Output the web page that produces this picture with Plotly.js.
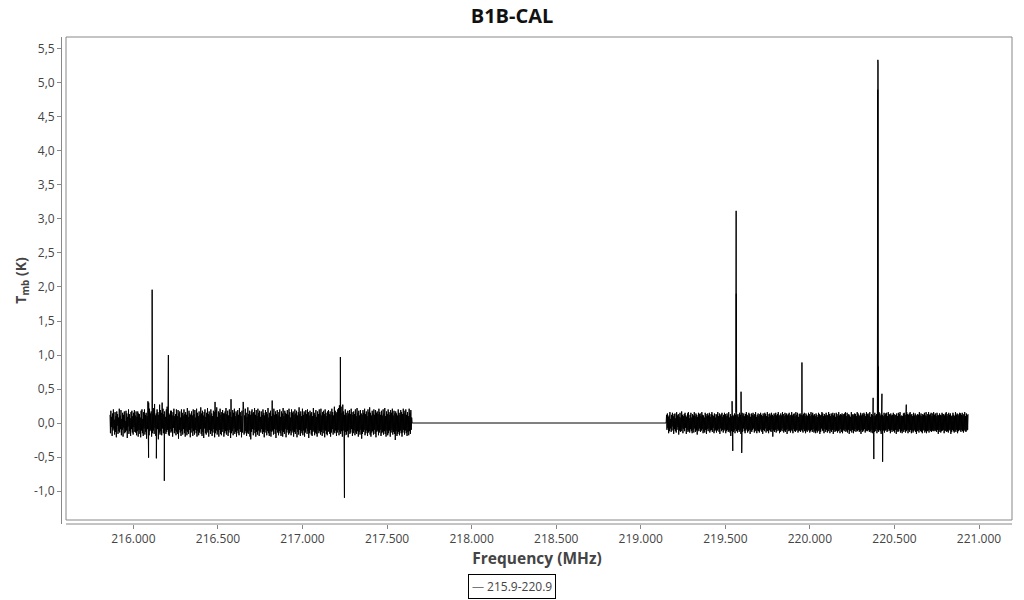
<!DOCTYPE html>
<html>
<head>
<meta charset="utf-8">
<script src="https://cdn.plot.ly/plotly-3.0.1.min.js"></script>
<style>html,body{margin:0;padding:0;background:#fff;}#chart{width:1024px;height:600px;}</style>
</head>
<body>
<div id="chart"></div>
<script>
// Spectrum channel grid (MHz) for the two observed bands
var seg1Start = 215862, seg1Step = 2.484;
var seg2Start = 219150, seg2Step = 2.483;

// Baseline noise (K), band 1
var seg1Noise = [
.12,-.15,.18,-.06,.09,-.19,.14,-.11,.2,-.08,.05,-.17,.16,-.13,.1,-.21,.17,-.04,.13,-.16,
.08,-.12,.21,-.14,.11,-.09,.19,-.18,.06,-.1,.15,-.2,.12,-.07,.17,-.15,.03,-.13,.18,-.11,
.14,-.22,.09,-.05,.2,-.16,.13,-.12,.07,-.19,.16,-.09,.18,-.14,.1,-.17,.15,-.06,.19,-.13,
.11,-.14,.17,-.18,.09,-.12,.17,-.2,.14,-.1,.13,-.16,.08,-.21,.18,-.11,.2,-.15,.06,-.19,
.16,-.08,.2,-.17,.12,-.13,.15,-.23,.1,-.09,.19,-.14,.3,-.18,.21,-.12,.14,-.1,.17,-.2,
.09,-.15,.13,-.11,.22,-.16,.28,-.07,.11,-.19,.14,-.13,.2,-.09,.16,-.24,.12,-.14,.27,-.17,
.19,-.12,.15,-.18,.3,-.08,.21,-.15,.13,-.2,.17,-.11,.09,-.16,.2,-.13,.24,-.1,.12,-.17,
.14,-.19,.12,-.09,.18,-.14,.18,-.12,.11,-.2,.16,-.07,.21,-.15,.1,-.11,.13,-.18,.2,-.13,
.1,-.16,.19,-.23,.14,-.1,.17,-.14,.08,-.19,.2,-.12,.15,-.17,.11,-.09,.2,-.15,.13,-.2,
.16,-.11,.12,-.18,.22,-.13,.09,-.16,.18,-.1,.14,-.21,.12,-.14,.17,-.08,.11,-.19,.2,-.12,
.13,-.17,.19,-.1,.08,-.15,.21,-.2,.15,-.12,.1,-.18,.17,-.14,.12,-.09,.23,-.16,.14,-.19,
.18,-.13,.11,-.22,.16,-.08,.2,-.15,.09,-.17,.15,-.11,.22,-.14,.13,-.2,.17,-.1,.11,-.16,
.2,-.12,.14,-.19,.1,-.14,.18,-.09,.16,-.21,.31,-.15,.19,-.11,.23,-.17,.09,-.13,.17,-.2,
.15,-.1,.21,-.16,.12,-.18,.16,-.13,.19,-.09,.14,-.2,.14,-.15,.17,-.12,.22,-.17,.13,-.11,
.18,-.19,.11,-.14,.2,-.1,.16,-.22,.35,-.15,.09,-.12,.19,-.18,.15,-.08,.21,-.16,.1,-.13,
.17,-.2,.14,-.11,.19,-.15,.12,-.18,.22,-.09,.16,-.13,.1,-.21,.18,-.14,.13,.31,.2,-.17,
.11,-.15,.21,-.12,.15,-.19,.09,-.14,.23,-.16,.13,-.11,.18,-.2,.12,-.24,.17,-.13,.2,-.09,
.14,-.18,.16,-.1,.22,-.15,.12,-.2,.19,-.13,.1,-.17,.21,-.11,.15,-.19,.18,-.12,.09,-.14,
.17,-.09,.12,-.16,.2,-.13,.15,-.21,.11,-.14,.19,-.1,.16,-.18,.13,-.12,.22,-.15,.08,-.19,
.15,-.12,.18,-.2,.1,-.13,.33,-.11,.14,-.17,.21,-.09,.12,-.16,.17,-.22,.13,-.1,.19,-.14,
.11,-.18,.16,-.12,.2,-.15,.09,-.19,.17,-.11,.14,-.2,.22,-.13,.1,-.16,.18,-.09,.15,-.21,
.13,-.14,.19,-.1,.12,-.17,.21,-.15,.16,-.12,.08,-.18,.2,-.14,.15,-.11,.17,-.2,.12,-.13,
.2,-.16,.14,-.09,.18,-.21,.11,-.13,.16,-.17,.23,-.1,.13,-.19,.17,-.12,.1,-.15,.21,-.18,
.12,-.11,.17,-.2,.15,-.14,.19,-.08,.13,-.16,.2,-.12,.16,-.22,.11,-.15,.18,-.1,.14,-.17,
.16,-.19,.1,-.13,.22,-.11,.15,-.18,.12,-.14,.19,-.16,.09,-.2,.17,-.1,.13,-.15,.2,-.12,
.14,-.17,.21,-.13,.11,-.19,.16,-.1,.18,-.15,.13,-.21,.2,-.11,.15,-.16,.1,-.18,.17,-.13,
.19,-.12,.13,-.16,.17,-.2,.12,-.14,.21,-.09,.16,-.17,.11,-.13,.24,-.15,.18,-.11,.14,-.19,
.16,-.14,.2,-.1,.22,-.18,.26,-.13,.19,-.16,.24,-.12,.15,-.2,.27,-.11,.17,-.15,.12,-.18,
.2,-.13,.15,-.17,.11,-.12,.18,-.21,.14,-.1,.19,-.16,.13,-.14,.21,-.09,.16,-.19,.12,-.15,
.17,-.11,.13,-.18,.2,-.14,.1,-.16,.22,-.12,.15,-.2,.18,-.13,.11,-.17,.19,-.1,.14,-.23,
.12,-.16,.19,-.13,.15,-.1,.21,-.18,.13,-.15,.17,-.11,.1,-.19,.2,-.14,.16,-.12,.23,-.17,
.15,-.2,.11,-.14,.18,-.12,.14,-.17,.2,-.1,.12,-.16,.19,-.21,.15,-.13,.17,-.11,.13,-.18,
.21,-.14,.16,-.1,.12,-.19,.18,-.15,.11,-.13,.2,-.17,.14,-.12,.22,-.16,.1,-.2,.17,-.11,
.13,-.18,.2,-.15,.16,-.11,.12,-.2,.19,-.14,.15,-.1,.21,-.17,.11,-.13,.18,-.16,.14,-.25,
.17,-.12,.14,-.19,.11,-.16,.2,-.13,.15,-.18,.12,-.11,.19,-.15,.16,-.2,.13,-.14,.21,-.1,
.14,-.17,.18,-.11,.2,-.15,.12,-.19,.16,-.13,.1,-.18,.21,-.12,.15,-.16,.19,-.1,.08,0
];

// Baseline noise (K), band 2
var seg2Noise = [
0,.12,-.1,.14,-.07,.09,-.15,.11,-.12,.16,-.08,.06,-.13,.12,-.11,.15,-.05,.1,-.16,.13,
-.09,.14,-.12,.07,-.14,.16,-.1,.11,-.06,.13,-.17,.09,-.11,.15,-.13,.08,-.12,.17,-.08,.12,
-.15,.1,-.09,.13,-.12,.15,-.07,.11,-.16,.09,-.1,.14,-.13,.16,-.11,.07,-.14,.12,-.09,.15,
-.12,.08,-.15,.13,-.1,.11,-.14,.16,-.08,.1,-.13,.14,-.11,.12,-.17,.09,-.1,.15,-.12,.13,
-.08,.14,-.13,.1,-.11,.16,-.09,.12,-.15,.11,-.12,.08,-.14,.15,-.1,.13,-.16,.1,-.09,.14,
-.12,.11,-.08,.15,-.14,.09,-.11,.13,-.1,.16,-.13,.12,-.07,.1,-.15,.14,-.12,.08,-.1,.13,
-.14,.12,-.11,.16,-.09,.1,-.13,.14,-.16,.11,-.08,.13,-.12,.15,-.1,.09,-.14,.12,-.11,.15,
-.09,.13,-.15,.1,-.12,.14,-.1,.11,-.13,.16,-.11,.08,-.14,.13,-.19,.1,-.12,.15,-.08,.12,
-.13,.1,-.11,.14,-.15,.12,-.09,.16,-.12,.11,-.14,.13,-.1,.09,-.13,.15,-.11,.12,-.16,.1,
-.1,.15,-.13,.11,-.08,.14,-.12,.1,-.15,.13,-.11,.16,-.09,.12,-.14,.1,-.12,.15,-.1,.13,
-.16,.09,-.11,.14,-.13,.12,-.1,.15,-.08,.11,-.14,.13,-.12,.16,-.1,.09,-.15,.12,-.11,.14,
-.12,.1,-.14,.13,-.09,.15,-.11,.12,-.13,.1,-.16,.14,-.1,.11,-.12,.15,-.08,.13,-.14,.1,
-.11,.16,-.12,.09,-.15,.13,-.1,.14,-.12,.11,-.13,.15,-.09,.12,-.2,.1,-.11,.14,-.13,.12,
-.1,.15,-.14,.11,-.12,.13,-.09,.16,-.11,.1,-.15,.12,-.13,.14,-.1,.11,-.12,.16,-.08,.13,
-.14,.1,-.11,.15,-.13,.12,-.1,.14,-.16,.11,-.09,.13,-.12,.15,-.11,.1,-.14,.12,-.1,.16,
-.12,.11,-.15,.13,-.09,.14,-.12,.1,-.13,.16,-.11,.12,-.1,.15,-.14,.09,-.12,.13,-.11,.14,
-.13,.12,-.1,.16,-.12,.11,-.14,.13,-.09,.15,-.12,.1,-.15,.14,-.11,.12,-.13,.1,-.1,.15,
-.11,.13,-.14,.1,-.12,.16,-.1,.12,-.13,.15,-.09,.11,-.14,.13,-.12,.1,-.15,.14,-.11,.12,
-.14,.09,-.12,.15,-.1,.13,-.16,.11,-.13,.12,-.08,.16,-.11,.14,-.12,.1,-.15,.13,-.09,.11,
-.13,.15,-.1,.12,-.14,.11,-.12,.16,-.09,.13,-.15,.1,-.11,.14,-.13,.12,-.1,.15,-.16,.11,
-.1,.14,-.13,.09,-.12,.15,-.11,.13,-.14,.1,-.12,.16,-.1,.11,-.15,.13,-.09,.12,-.13,.14,
-.15,.11,-.1,.13,-.12,.14,-.09,.16,-.13,.1,-.11,.15,-.14,.12,-.1,.13,-.16,.11,-.12,.09,
-.11,.16,-.14,.12,-.1,.13,-.15,.11,-.12,.14,-.09,.13,-.13,.1,-.11,.16,-.12,.14,-.1,.12,
-.13,.1,-.12,.15,-.16,.11,-.1,.14,-.13,.12,-.11,.15,-.09,.13,-.14,.1,-.12,.16,-.11,.13,
-.12,.14,-.1,.11,-.13,.16,-.12,.09,-.14,.13,-.1,.12,-.15,.14,-.11,.1,-.13,.15,-.12,.11,
-.09,.13,-.15,.12,-.11,.1,-.13,.16,-.1,.14,-.12,.11,-.16,.13,-.1,.12,-.14,.1,-.11,.15,
-.14,.12,-.11,.14,-.1,.15,-.13,.1,-.12,.16,-.09,.13,-.11,.12,-.15,.14,-.1,.11,-.13,.12,
-.1,.15,-.12,.13,-.14,.11,-.1,.12,-.16,.14,-.11,.1,-.13,.15,-.12,.13,-.09,.16,-.14,.1,
-.12,.11,-.15,.1,-.11,.14,-.13,.15,-.1,.12,-.14,.11,-.12,.16,-.1,.13,-.15,.12,-.11,.14,
-.13,.16,-.1,.12,-.15,.13,-.11,.1,-.14,.15,-.12,.11,-.1,.14,-.13,.12,-.16,.1,-.12,.13,
-.11,.12,-.14,.16,-.1,.11,-.12,.14,-.13,.1,-.15,.13,-.11,.12,-.1,.15,-.14,.11,-.12,.16,
-.15,.1,-.12,.13,-.11,.16,-.14,.12,-.1,.13,-.12,.15,-.13,.1,-.11,.14,-.12,.16,-.1,.12,
-.12,.14,-.11,.1,-.13,.15,-.1,.12,-.16,.11,-.13,.14,-.1,.12,-.14,.11,-.12,.15,-.11,.13,
-.1,.13,-.15,.11,-.12,.14,-.11,.16,-.13,.1,-.12,.13,-.14,.15,-.1,.12,-.11,.14,-.16,.1,
-.13,.11,-.1,.15,-.12,.12,-.14,.1,-.11,.16,-.13,.12,-.1,.14,-.15,.13,-.12,.11,-.1,.15,
-.11,.14,-.13,.12,-.1,.15,-.12,.11,-.14,.13,-.1,.16,-.12,.1,-.13,.14,-.11,.12,-.1,.13
];

// Spectral lines (MHz, K)
var lineFreq = [216086, 216090, 216111, 216136, 216183, 216207, 217224, 217248,
                219540, 219544, 219564, 219565, 219593, 219597, 219953,
                220374, 220378, 220401, 220402, 220403, 220404, 220426, 220430, 220570];
var lineTmb  = [0.32, -0.51, 1.96, -0.52, -0.85, 1.0, 0.97, -1.1,
                0.32, -0.41, 3.12, 1.9, 0.46, -0.44, 0.89,
                0.37, -0.53, 4.9, 5.34, 5.28, 0.83, 0.43, -0.57, 0.27];

var yTickVals = [-1, -0.5, 0, 0.5, 1, 1.5, 2, 2.5, 3, 3.5, 4, 4.5, 5, 5.5];
var yTickText = ['-1,0','-0,5','0,0','0,5','1,0','1,5','2,0','2,5','3,0','3,5','4,0','4,5','5,0','5,5'];

var seriesName = '215.9-220.9';

// Build the spectrum
var pts = [];
seg1Noise.forEach(function (v, i) { pts.push([seg1Start + i * seg1Step, v]); });
seg2Noise.forEach(function (v, i) { pts.push([seg2Start + i * seg2Step, v]); });
lineFreq.forEach(function (f, i) { pts.push([f, lineTmb[i]]); });
pts.sort(function (a, b) { return a[0] - b[0]; });
var xs = pts.map(function (p) { return p[0]; });
var ys = pts.map(function (p) { return p[1]; });

var W = 1024, H = 600, mL = 62, mR = 12, mT = 37, mB = 76;
var pw = W - mL - mR, ph = H - mT - mB;
var bx0 = 4 / pw, by0 = 4 / ph;

var trace = {
  x: xs, y: ys, type: 'scatter', mode: 'lines', name: seriesName,
  line: {color: '#000000', width: 1, simplify: false},
  hoverinfo: 'skip', showlegend: false
};

var layout = {
  width: W, height: H,
  margin: {l: mL, r: mR, t: mT, b: mB, pad: 0},
  paper_bgcolor: '#ffffff', plot_bgcolor: '#ffffff',
  separators: ',.',
  font: {family: '"Open Sans", "Noto Sans", sans-serif', size: 12, color: '#444'},
  title: {text: '<b>B1B-CAL</b>', x: 0.5, xref: 'container', xanchor: 'center', y: 0.973, yref: 'container', yanchor: 'middle',
          font: {size: 20, color: '#111', family: '"Open Sans", sans-serif'}},
  xaxis: {
    range: [215578, 221195], dtick: 500, tick0: 216000, tickformat: ',.0f',
    ticks: 'outside', ticklen: 4, tickcolor: '#888', showline: false, showgrid: false, zeroline: false,
    tickfont: {size: 12, color: '#444'},
    title: {text: '<b>Frequency (MHz)</b>', standoff: 4, font: {size: 15.5, color: '#444'}}
  },
  yaxis: {
    range: [-1.485, 5.676], tickmode: 'array', tickvals: yTickVals, ticktext: yTickText,
    ticks: 'outside', ticklen: 4, tickcolor: '#888', showline: true, linecolor: '#888', linewidth: 1,
    showgrid: false, zeroline: false,
    tickfont: {size: 12, color: '#444'},
    title: {text: '<b>T<sub>mb</sub> (K)</b>', standoff: 3, font: {size: 14, color: '#444'}}
  },
  shapes: [
    {type: 'rect', xref: 'paper', yref: 'paper', x0: bx0, x1: 1, y0: by0, y1: 1,
     line: {color: '#888', width: 1}, fillcolor: 'rgba(0,0,0,0)', layer: 'below'},
    {type: 'line', xref: 'paper', yref: 'paper', x0: bx0, x1: 1, y0: 0, y1: 0,
     line: {color: '#888', width: 1}}
  ],
  annotations: [
    {xref: 'paper', yref: 'paper', x: (511.5 - mL) / pw, y: (H - mB - 586.5) / ph, xanchor: 'center', yanchor: 'middle',
     showarrow: false, text: '<span style="color:#777">—</span> ' + seriesName,
     font: {size: 12, color: '#444'}, bordercolor: '#000', borderwidth: 1, borderpad: 3, bgcolor: '#fff'}
  ]
};

Plotly.newPlot('chart', [trace], layout, {displayModeBar: false, staticPlot: true});
</script>
</body>
</html>
